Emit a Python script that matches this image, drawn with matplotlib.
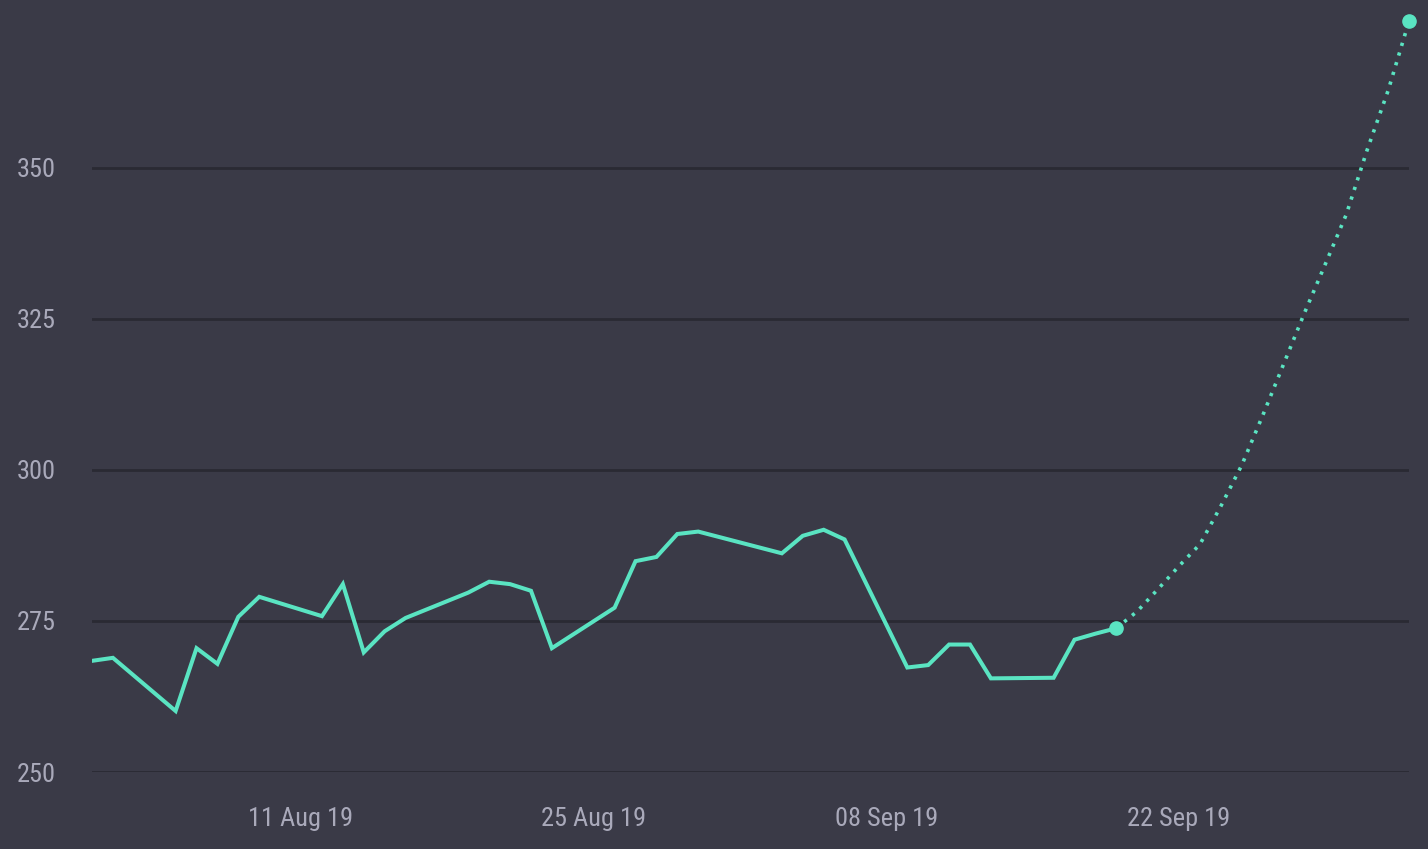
import matplotlib
matplotlib.use("Agg")
import matplotlib.pyplot as plt
import matplotlib.dates as mdates
from matplotlib import font_manager
import pandas as pd

# pick a narrow face if one is around
names = {f.name for f in font_manager.fontManager.ttflist}
narrow = [n for n in ['Roboto Condensed', 'Liberation Sans Narrow', 'Open Sans Condensed',
                      'DejaVu Sans Condensed'] if n in names]
plt.rcParams['font.family'] = narrow + ['Roboto', 'DejaVu Sans']
if not narrow:
    plt.rcParams['font.stretch'] = 'condensed'

# observed closes (trading days)
hist_dates = ["2019-08-01", "2019-08-02", "2019-08-05", "2019-08-06", "2019-08-07",
              "2019-08-08", "2019-08-09", "2019-08-12", "2019-08-13", "2019-08-14",
              "2019-08-15", "2019-08-16", "2019-08-19", "2019-08-20", "2019-08-21",
              "2019-08-22", "2019-08-23", "2019-08-26", "2019-08-27", "2019-08-28",
              "2019-08-29", "2019-08-30", "2019-09-03", "2019-09-04", "2019-09-05",
              "2019-09-06", "2019-09-09", "2019-09-10", "2019-09-11", "2019-09-12",
              "2019-09-13", "2019-09-16", "2019-09-17", "2019-09-18", "2019-09-19"]
hist_values = [268.4, 268.9, 260.1, 270.5, 267.9,
               275.7, 279.0, 275.8, 281.1, 269.8,
               273.3, 275.5, 279.7, 281.5, 281.1,
               280.0, 270.5, 277.2, 284.9, 285.6,
               289.4, 289.8, 286.2, 289.1, 290.1,
               288.5, 267.3, 267.7, 271.1, 271.1,
               265.5, 265.6, 271.9, 272.9, 273.8]

# projection
proj_dates = ["2019-09-19", "2019-09-20", "2019-09-21", "2019-09-22", "2019-09-23",
              "2019-09-24", "2019-09-25", "2019-09-26", "2019-09-27", "2019-09-28",
              "2019-09-29", "2019-09-30", "2019-10-01", "2019-10-02", "2019-10-03"]
proj_values = [273.8, 276.6, 280.3, 284.1, 287.7,
               294.0, 300.8, 309.0, 317.5, 326.0,
               334.1, 342.3, 353.0, 362.8, 374.3]

tick_dates = ["2019-08-11", "2019-08-25", "2019-09-08", "2019-09-22"]
y_ticks = [250, 275, 300, 325, 350]

bg = "#3a3a47"
green = "#5ae4c2"
grid_c = "#2a2a33"
label_c = "#a9a9ba"

hx = pd.to_datetime(hist_dates)
px = pd.to_datetime(proj_dates)

fig = plt.figure(figsize=(14.28, 8.49), dpi=100, facecolor=bg)
ax = fig.add_axes([92 / 1428, 77 / 849, (1409 - 92) / 1428, 772 / 849])
ax.set_facecolor(bg)

ax.plot(hx, hist_values, color=green, lw=2.9, solid_joinstyle='miter', zorder=3)
ax.plot(px, proj_values, color=green, lw=2.6, linestyle=(0, (0.9, 1.9)), zorder=3)
ax.plot([px[0], px[-1]], [proj_values[0], proj_values[-1]], 'o', color=green,
        ms=9.5, zorder=4, clip_on=False)

ax.set_xlim(pd.Timestamp("2019-08-01"), pd.Timestamp("2019-10-03"))
ax.set_ylim(250, 377.8)

ax.set_yticks(y_ticks)
ax.set_xticks(pd.to_datetime(tick_dates))
ax.xaxis.set_major_formatter(mdates.DateFormatter("%d %b %y"))

ax.grid(axis='y', color=grid_c, lw=2)
ax.set_axisbelow(True)
for s in ax.spines.values():
    s.set_visible(False)
ax.tick_params(axis='both', length=0, colors=label_c, labelsize=19)
ax.tick_params(axis='y', pad=54)
ax.tick_params(axis='x', pad=25)
for t in ax.get_yticklabels():
    t.set_horizontalalignment('left')

fig.savefig("out.png", dpi=100, facecolor=bg)
